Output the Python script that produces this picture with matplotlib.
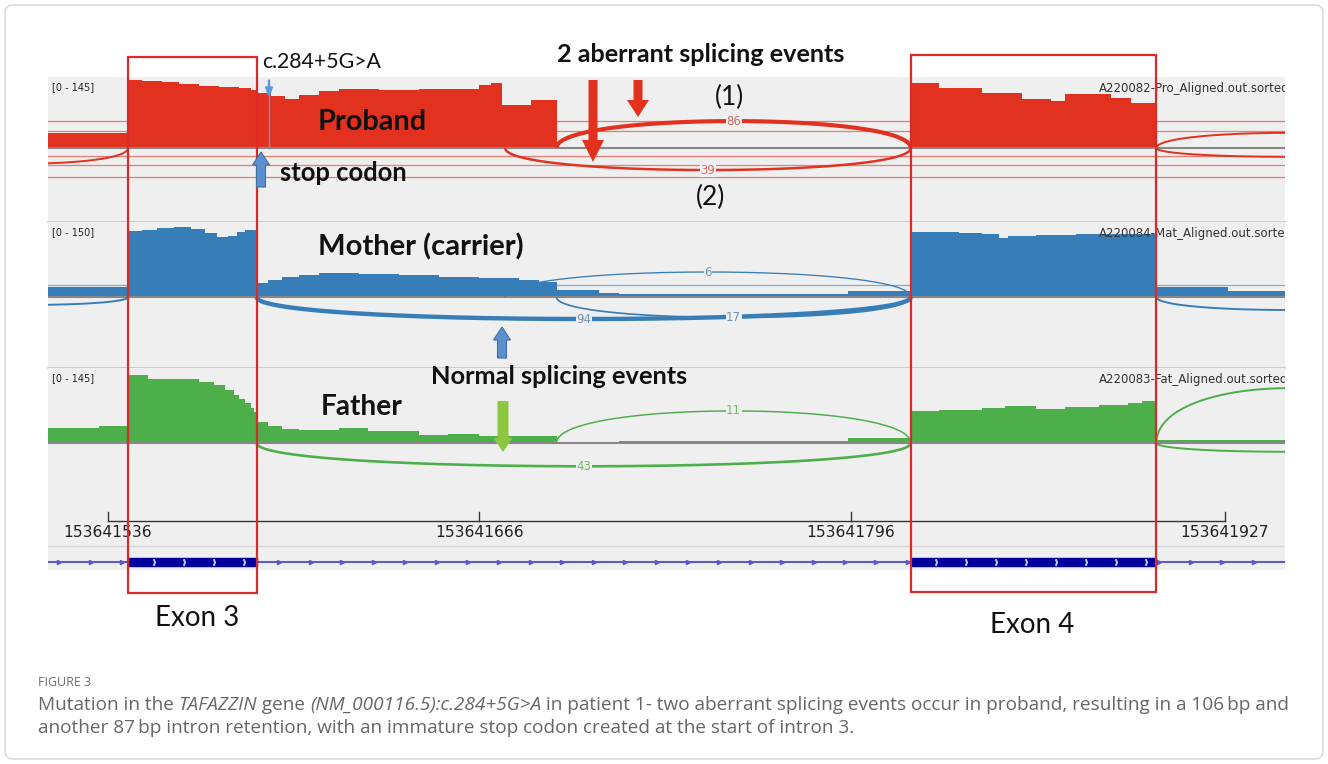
import numpy as np
import matplotlib.pyplot as plt
from matplotlib.patches import Rectangle, FancyArrow, FancyBboxPatch

plt.rcParams['font.family'] = ['Lato', 'DejaVu Sans']

# ------------------------------
# Data
# ------------------------------
REGION_START = 153641515   # first base shown in the tracks
REGION_LEN = 433           # bases shown

ruler_ticks = [153641536, 153641666, 153641796, 153641927]
exon_start = [153641543, 153641817]
exon_end = [153641588, 153641903]
exon_names = ["Exon 3", "Exon 4"]

track_names = ["Proband", "Mother (carrier)", "Father"]
track_files = ["A220082-Pro_Aligned.out.sorted.bam",
               "A220084-Mat_Aligned.out.sorted.bam",
               "A220083-Fat_Aligned.out.sorted.bam"]
track_range = [145, 150, 145]
track_colors = ["#e3311f", "#377eb8", "#4daf4a"]
label_colors = ["#d46a6a", "#6f95bd", "#6bbf5e"]

# coverage: offset (bp from REGION_START) -> depth, held until next offset
pro_pos = [0, 28, 33, 40, 46, 53, 60, 67, 71, 73, 78, 83, 88, 95, 102, 116, 130, 144,
           151, 155, 159, 169, 178, 302, 312, 327, 341, 351, 356, 372, 379, 388]
pro_depth = [30, 139, 137, 135, 131, 127, 125, 123, 118, 112, 106, 100, 108, 116, 120, 118, 120, 121,
             128, 133, 88, 98, 0, 133, 123, 112, 100, 96, 110, 102, 92, 0]

mat_pos = [0, 28, 33, 38, 44, 50, 55, 59, 63, 66, 69, 73, 77, 82, 88, 95, 109, 123, 137,
           151, 165, 172, 178, 193, 200, 280, 302, 319, 327, 333, 336, 346, 360, 372, 388, 413, 433]
mat_depth = [20, 132, 134, 138, 140, 136, 128, 120, 122, 130, 134, 28, 34, 40, 44, 48, 46, 44, 40,
             38, 34, 30, 14, 8, 6, 12, 130, 128, 126, 118, 122, 124, 126, 126, 20, 12, 12]

fat_pos = [0, 18, 28, 35, 53, 58, 62, 65, 67, 69, 71, 72, 73, 77, 82, 88, 102, 112, 130, 140,
           151, 165, 178, 200, 280, 302, 312, 327, 335, 346, 356, 368, 378, 383, 388, 433]
fat_depth = [29, 33, 131, 124, 118, 112, 102, 93, 85, 77, 68, 60, 41, 33, 27, 25, 29, 23, 15, 17,
             14, 14, 0, 4, 10, 62, 64, 68, 72, 66, 70, 73, 77, 82, 6, 6]

# splice junctions (offsets), read counts (None = label off screen), arc peak (+ above / - below)
pro_junc_start = [-45, 178, 160, 388, 388]
pro_junc_end = [28, 302, 302, 480, 480]
pro_junc_count = [None, 86, 39, None, None]
pro_junc_peak = [-32, 55, -45, 31, -18]

mat_junc_start = [-45, 160, 73, 178, 388]
mat_junc_end = [28, 302, 302, 302, 480]
mat_junc_count = [None, 6, 94, 17, None]
mat_junc_peak = [-16, 50, -44, -41, -26]

fat_junc_start = [178, 73, 388, 388]
fat_junc_end = [302, 302, 480, 480]
fat_junc_count = [11, 43, None, None]
fat_junc_peak = [62, -45, 106, -17]

# very long arcs that show up as flat lines
pro_flat = [55, 35, -17, -35, -59]
mat_flat = [24]
fat_flat = []

# ------------------------------
# Layout (pixels)
# ------------------------------
W, H = 1328, 764
LEFT, RIGHT = 48, 1285
track_top = [77, 222, 368]
track_base = [148, 297, 443]
track_bottom = [222, 368, 505]
BG = "#efefef"

fig = plt.figure(figsize=(W / 100, H / 100), dpi=100)


def fig_rect(left, top, right, bottom):
    return [left / W, 1 - bottom / H, (right - left) / W, (bottom - top) / H]


def to_px(genomic):
    return LEFT + (genomic - REGION_START) / REGION_LEN * (RIGHT - LEFT)


def arc(x0, x1, peak, n=300):
    t = np.linspace(0, 1, n)
    s = 3 * t ** 2 - 2 * t ** 3
    return x0 + (x1 - x0) * s, 3 * t * (1 - t) * peak / 0.75


covs = [(pro_pos, pro_depth), (mat_pos, mat_depth), (fat_pos, fat_depth)]
juncs = [(pro_junc_start, pro_junc_end, pro_junc_count, pro_junc_peak),
         (mat_junc_start, mat_junc_end, mat_junc_count, mat_junc_peak),
         (fat_junc_start, fat_junc_end, fat_junc_count, fat_junc_peak)]
flats = [pro_flat, mat_flat, fat_flat]

for i in range(3):
    ax = fig.add_axes(fig_rect(LEFT, track_top[i], RIGHT, track_bottom[i]))
    ax.set_facecolor(BG)
    scale = (track_base[i] - track_top[i]) / track_range[i]
    ax.set_xlim(0, REGION_LEN)
    ax.set_ylim(-(track_bottom[i] - track_base[i]) / scale, track_range[i])
    ax.set_xticks([])
    ax.set_yticks([])
    for sp in ax.spines.values():
        sp.set_visible(False)
    if i < 2:
        ax.spines['bottom'].set_visible(True)
        ax.spines['bottom'].set_color("#c6c6c6")
        ax.spines['bottom'].set_linewidth(1.2)
    c = track_colors[i]
    for f in flats[i]:
        ax.axhline(f, color=c, lw=0.9, alpha=0.6)
    pos, dep = covs[i]
    ax.fill_between(pos, 0, dep, step='post', color=c, lw=0)
    ax.axhline(0, color="#888888", lw=1.5)
    for s0, s1, n, pk in zip(*juncs[i]):
        x, y = arc(s0, s1, pk)
        lw = 1.4 if n is None else 0.8 + n / 40
        ax.plot(x, y, color=c, lw=lw, solid_capstyle='butt')
        if n is not None:
            ax.text((s0 + s1) / 2, pk, str(n), ha='center', va='center', fontsize=8.5,
                    family='DejaVu Sans', color=label_colors[i],
                    bbox=dict(boxstyle='square,pad=0.05', fc=BG, ec='none'))
    ax.text(1.4, track_range[i] * 0.86, "[0 - %d]" % track_range[i], fontsize=7,
            family='DejaVu Sans', color="#222222", va='center')
    ax.text(368, track_range[i] * 0.84, track_files[i], fontsize=8.5, family='DejaVu Sans',
            color="#333333", va='center', clip_on=True)

# ruler + gene track
axb = fig.add_axes(fig_rect(LEFT, 505, RIGHT, 570))
axb.set_facecolor(BG)
axb.set_xlim(0, REGION_LEN)
axb.set_ylim(570, 505)
axb.axis('off')
axb.add_patch(Rectangle((0, 505), REGION_LEN, 65, color=BG, zorder=0))
tick_off = [t - REGION_START for t in ruler_ticks]
axb.plot([tick_off[0], tick_off[-1]], [521, 521], color="#333333", lw=1)
for t, lab in zip(tick_off, ruler_ticks):
    axb.plot([t, t], [512, 521], color="#333333", lw=1)
    axb.text(t, 533, str(lab), ha='center', va='center', fontsize=11.2, family='DejaVu Sans',
             color="#222222")
axb.axhline(546, color="#d6d6d6", lw=1)
axb.plot([0, REGION_LEN], [562, 562], color="#5a5ac8", lw=1.5)
chev = np.arange(4, REGION_LEN, 11)
ex_off = [(s - REGION_START, e - REGION_START) for s, e in zip(exon_start, exon_end)]
intr = [c for c in chev if not any(s <= c <= e for s, e in ex_off)]
axb.plot(intr, [562] * len(intr), ls='none', marker='>', ms=3, color="#5a5ac8")
for s, e in ex_off:
    axb.add_patch(Rectangle((s, 558), e - s, 8, color="#00009c", zorder=3))
    inex = np.arange(s + 9, e - 3, 10.5)
    axb.plot(inex, [562] * len(inex), ls='none', marker=r'$\rangle$', ms=4, color="#c8c8ff",
             zorder=4)

# ------------------------------
# Annotation layer (pixel coordinates)
# ------------------------------
ov = fig.add_axes([0, 0, 1, 1], zorder=10)
ov.set_xlim(0, W)
ov.set_ylim(H, 0)
ov.axis('off')
ov.patch.set_alpha(0)

ov.add_patch(FancyBboxPatch((5, 5), W - 10, H - 10, boxstyle="round,pad=0,rounding_size=8",
                            fc='none', ec="#d4d4d4", lw=1))

# exon boxes
box_y = [(57, 593), (55, 592)]
for (s, e), (y0, y1) in zip(zip(exon_start, exon_end), box_y):
    x0, x1 = to_px(s), to_px(e)
    ov.add_patch(Rectangle((x0, y0), x1 - x0, y1 - y0, fill=False, ec="#d92b2b", lw=1.6))
ov.text(197, 618, exon_names[0], ha='center', va='center', fontsize=20, color="#111111")
ov.text(1032, 625, exon_names[1], ha='center', va='center', fontsize=20, color="#111111")

# variant marker
ov.plot([269, 269], [90, 148], color="#5b9bd5", lw=1)
ov.add_patch(FancyArrow(269, 80, 0, 16, width=1, head_width=7, head_length=9,
                        length_includes_head=True, color="#5b9bd5"))
ov.text(262, 62, "c.284+5G>A", ha='left', va='center', fontsize=15.3, color="#111111")

ov.text(701, 55, "2 aberrant splicing events", ha='center', va='center', fontsize=18.2,
        fontweight='bold', color="#111111")
ov.add_patch(FancyArrow(593, 80, 0, 82, width=9, head_width=22, head_length=22,
                        length_includes_head=True, color="#e3311f", lw=0))
ov.add_patch(FancyArrow(638, 80, 0, 37, width=9, head_width=22, head_length=17,
                        length_includes_head=True, color="#e3311f", lw=0))
ov.text(729, 97, "(1)", ha='center', va='center', fontsize=19, color="#111111")
ov.text(711, 197, "(2)", ha='center', va='center', fontsize=19, color="#111111")

ov.text(372, 122, "Proband", ha='center', va='center', fontsize=20.8, fontweight='bold',
        color="#111111")
ov.add_patch(FancyArrow(261, 187, 0, -35, width=9, head_width=17, head_length=13,
                        length_includes_head=True, fc="#5b8fd0", ec="#41719c", lw=0.8))
ov.text(343, 173, "stop codon", ha='center', va='center', fontsize=18.4, fontweight='bold',
        color="#111111")

ov.text(421, 247, "Mother (carrier)", ha='center', va='center', fontsize=21,
        fontweight='bold', color="#111111")
ov.add_patch(FancyArrow(502, 358, 0, -31, width=9, head_width=17, head_length=13,
                        length_includes_head=True, fc="#5b8fd0", ec="#41719c", lw=0.8))
ov.text(559, 376, "Normal splicing events", ha='center', va='center', fontsize=18.3,
        fontweight='bold', color="#111111")

ov.text(362, 407, "Father", ha='center', va='center', fontsize=20.2, fontweight='bold',
        color="#111111")
ov.add_patch(FancyArrow(503, 401, 0, 51, width=11, head_width=19, head_length=14,
                        length_includes_head=True, color="#8cc63f", lw=0))

# caption
cap_font = ['Open Sans', 'DejaVu Sans']
ov.text(38, 682, "FIGURE 3", ha='left', va='center', fontsize=9, family=cap_font,
        color="#6d6d6d")
line1 = [("Mutation in the ", 'normal'), ("TAFAZZIN", 'italic'), (" gene ", 'normal'),
         ("(NM_000116.5):c.284+5G>A", 'italic'),
         (" in patient 1- two aberrant splicing events occur in proband, resulting in a 106\u2009bp and",
          'normal')]
line2 = [("another 87\u2009bp intron retention, with an immature stop codon created at the start of intron 3.",
          'normal')]
renderer = fig.canvas.get_renderer()


def draw_runs(runs, x, y, size):
    arts = []
    for txt, st in runs:
        t = ov.text(x, y, txt, ha='left', va='center', fontsize=size, style=st,
                    family=cap_font, color="#666666")
        x += t.get_window_extent(renderer=renderer).width
        arts.append(t)
    return arts, x


arts, xe = draw_runs(line1, 38, 705, 11)
size = 11 * (1293 - 38) / (xe - 38)
for a in arts:
    a.remove()
draw_runs(line1, 38, 705, size)
draw_runs(line2, 38, 728, size)

fig.savefig("out.png", dpi=100)
